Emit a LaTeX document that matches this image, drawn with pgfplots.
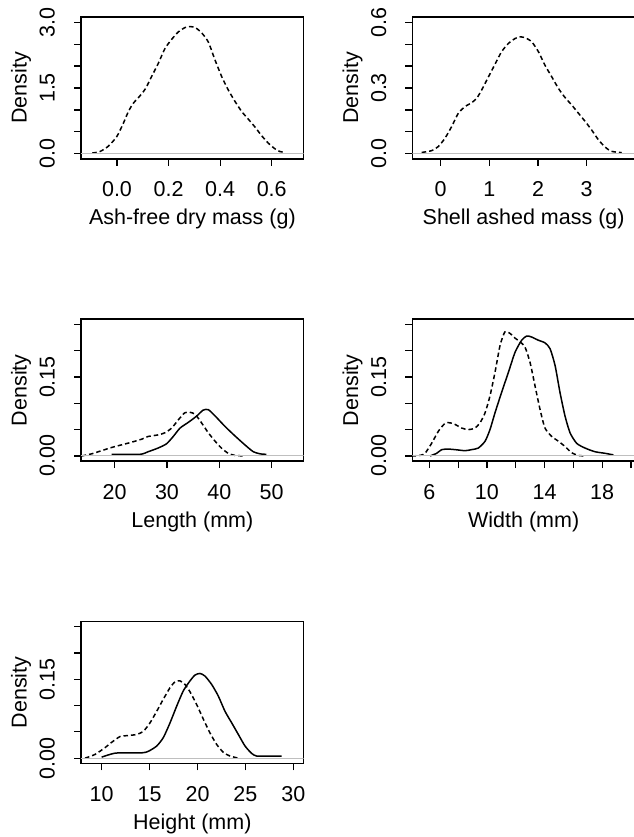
\documentclass[border=0pt]{standalone}
\usepackage{fontspec}
\setmainfont{Liberation Sans}
\usepackage{pgfplots}
\pgfplotsset{compat=1.18}
\newcommand\fs{\fontsize{21.5}{25}\selectfont}
\pgfplotsset{
 rpanel/.style={
  scale only axis, width=222.7pt, height=142pt, anchor=south west,
  axis line style={line width=1.4pt},
  tick style={line width=1.2pt, black},
  tick align=outside, major tick length=7pt,
  xtick pos=bottom, ytick pos=left,
  tick label style={font=\fs},
  xticklabel style={anchor=base, yshift=-31pt, inner sep=0pt},
  yticklabel style={xshift=-19.3pt, rotate=90, anchor=base, inner sep=0pt},
  every axis x label/.style={at={(axis description cs:0.5,-0.4648)}, anchor=base, inner sep=0pt, font=\fs},
  every axis y label/.style={at={(axis description cs:-0.2438,0.5)}, rotate=90, anchor=base, inner sep=0pt, font=\fs},
  ylabel={Density},
 },
 dsh/.style={black, line width=1.5pt, dash pattern=on 4.5pt off 3pt, smooth, tension=0.4},
 sld/.style={black, line width=1.5pt, smooth, tension=0.4},
 zl/.style={black!25, line width=1pt},
}
\begin{document}
\begin{tikzpicture}[x=1pt,y=1pt,trim left=0pt,trim right=633pt]
\path (0,0) rectangle (633,837);
% Panel 1
\begin{axis}[rpanel, at={(81pt,678pt)},
  xmin=-0.1396, xmax=0.724, ymin=-0.12, ymax=3.12,
  xtick={0,0.2,0.4,0.6}, xticklabels={0.0,0.2,0.4,0.6},
  ytick={0,0.5,1,1.5,2,2.5,3}, yticklabels={0.0,,,1.5,,,3.0},
  xlabel={Ash-free dry mass (g)}]
\addplot[dsh] coordinates {(-0.096,0.015) (-0.066,0.05) (-0.034,0.17) (-0.001,0.39) (0.025,0.70) (0.044,0.96) (0.063,1.15) (0.089,1.32) (0.111,1.49) (0.134,1.76) (0.160,2.06) (0.186,2.40) (0.212,2.61) (0.238,2.78) (0.264,2.88) (0.283,2.90) (0.303,2.88) (0.328,2.76) (0.354,2.55) (0.380,2.14) (0.406,1.76) (0.432,1.45) (0.458,1.19) (0.484,0.96) (0.509,0.79) (0.535,0.61) (0.561,0.41) (0.587,0.24) (0.613,0.11) (0.632,0.05) (0.652,0.03)};
\addplot[zl] coordinates {(-1,0) (1,0)};
\end{axis}
% Panel 2
\begin{axis}[rpanel, at={(412.3pt,678pt)},
  xmin=-0.583, xmax=3.993, ymin=-0.024, ymax=0.624,
  xtick={0,1,2,3}, xticklabels={0,1,2,3},
  ytick={0,0.1,0.2,0.3,0.4,0.5,0.6}, yticklabels={0.0,,,0.3,,,0.6},
  xlabel={Shell ashed mass (g)}]
\addplot[dsh] coordinates {(-0.39,0.006) (-0.185,0.014) (-0.048,0.033) (0.089,0.071) (0.226,0.124) (0.363,0.185) (0.5,0.215) (0.637,0.233) (0.74,0.253) (0.84,0.29) (0.98,0.35) (1.12,0.41) (1.25,0.465) (1.39,0.503) (1.53,0.526) (1.63,0.533) (1.73,0.530) (1.87,0.511) (2.01,0.465) (2.14,0.405) (2.28,0.352) (2.42,0.298) (2.55,0.258) (2.69,0.223) (2.83,0.185) (2.97,0.147) (3.10,0.109) (3.24,0.064) (3.38,0.030) (3.51,0.011) (3.72,0.005)};
\addplot[zl] coordinates {(-2,0) (6,0)};
\end{axis}
% Panel 3
\begin{axis}[rpanel, at={(81pt,375.8pt)},
  xmin=13.57, xmax=56.13, ymin=-0.01, ymax=0.26,
  xtick={20,30,40,50}, xticklabels={20,30,40,50},
  ytick={0,0.05,0.1,0.15,0.2,0.25}, yticklabels={0.00,,,0.15,,},
  xlabel={Length (mm)}]
\addplot[dsh] coordinates {(13.7,0) (15.6,0.004) (17.5,0.010) (19.4,0.016) (21.3,0.021) (23.2,0.026) (25.2,0.032) (26.4,0.037) (28.3,0.040) (29.6,0.044) (30.9,0.053) (32.2,0.069) (33.4,0.082) (34.4,0.083) (35.4,0.079) (36.6,0.063) (37.9,0.044) (39.2,0.028) (40.4,0.015) (41.7,0.005) (43.0,0.001) (44.9,0)};
\addplot[sld] coordinates {(19.4,0.003) (24.8,0.003) (26.4,0.008) (28.3,0.015) (29.9,0.023) (31.2,0.037) (32.5,0.053) (34.1,0.064) (35.7,0.076) (36.9,0.087) (37.9,0.088) (39.2,0.076) (41.1,0.056) (43.0,0.038) (44.9,0.021) (46.5,0.008) (47.8,0.004) (49.0,0.003)};
\addplot[zl] coordinates {(0,0) (70,0)};
\end{axis}
% Panel 4
\begin{axis}[rpanel, at={(412.3pt,375.8pt)},
  xmin=4.818, xmax=20.28, ymin=-0.01, ymax=0.26,
  xtick={6,8,10,12,14,16,18,20}, xticklabels={6,,10,,14,,18,},
  ytick={0,0.05,0.1,0.15,0.2,0.25}, yticklabels={0.00,,,0.15,,},
  xlabel={Width (mm)}]
\addplot[dsh] coordinates {(4.77,0) (5.35,0.001) (5.70,0.005) (6.16,0.024) (6.63,0.047) (7.09,0.062) (7.44,0.063) (7.78,0.060) (8.25,0.053) (8.71,0.050) (9.17,0.053) (9.52,0.063) (9.87,0.082) (10.21,0.114) (10.56,0.159) (10.91,0.210) (11.25,0.236) (11.60,0.233) (11.95,0.224) (12.30,0.217) (12.64,0.207) (12.99,0.178) (13.34,0.133) (13.69,0.088) (14.03,0.053) (14.50,0.037) (14.96,0.028) (15.42,0.018) (15.88,0.006) (16.35,0.001) (16.81,0)};
\addplot[sld] coordinates {(6.05,0) (6.51,0.005) (6.86,0.012) (7.32,0.013) (7.78,0.012) (8.48,0.010) (8.94,0.012) (9.40,0.015) (9.87,0.028) (10.21,0.050) (10.56,0.082) (11.02,0.121) (11.49,0.159) (11.95,0.197) (12.41,0.220) (12.76,0.228) (13.11,0.226) (13.57,0.220) (14.03,0.215) (14.38,0.204) (14.73,0.172) (15.07,0.121) (15.42,0.076) (15.77,0.044) (16.23,0.024) (16.81,0.015) (17.50,0.008) (18.20,0.005) (18.78,0.002)};
\addplot[zl] coordinates {(0,0) (30,0)};
\end{axis}
% Panel 5
\begin{axis}[rpanel, at={(81pt,73.6pt)},
  xmin=7.843, xmax=31.08, ymin=-0.01, ymax=0.26,
  xtick={10,15,20,25,30}, xticklabels={10,15,20,25,30},
  ytick={0,0.05,0.1,0.15,0.2,0.25}, yticklabels={0.00,,,0.15,,},
  xlabel={Height (mm)}]
\addplot[dsh] coordinates {(8.26,0) (9.30,0.007) (10.35,0.020) (11.04,0.030) (11.91,0.041) (12.78,0.043) (13.65,0.045) (14.35,0.051) (15.04,0.067) (15.74,0.089) (16.43,0.112) (17.13,0.134) (17.65,0.145) (18.17,0.147) (18.70,0.140) (19.22,0.126) (19.91,0.102) (20.61,0.074) (21.30,0.048) (22.00,0.026) (22.70,0.011) (23.39,0.004) (24.26,0)};
\addplot[sld] coordinates {(10.0,0.002) (11.04,0.008) (11.74,0.010) (14.17,0.010) (14.87,0.013) (15.74,0.023) (16.43,0.039) (17.13,0.067) (17.83,0.099) (18.52,0.128) (19.22,0.147) (19.74,0.158) (20.26,0.161) (20.78,0.156) (21.48,0.140) (22.17,0.118) (22.87,0.089) (23.57,0.067) (24.26,0.045) (24.96,0.023) (25.65,0.009) (26.17,0.004) (27.39,0.004) (28.78,0.004)};
\addplot[zl] coordinates {(0,0) (40,0)};
\end{axis}
\end{tikzpicture}
\end{document}
